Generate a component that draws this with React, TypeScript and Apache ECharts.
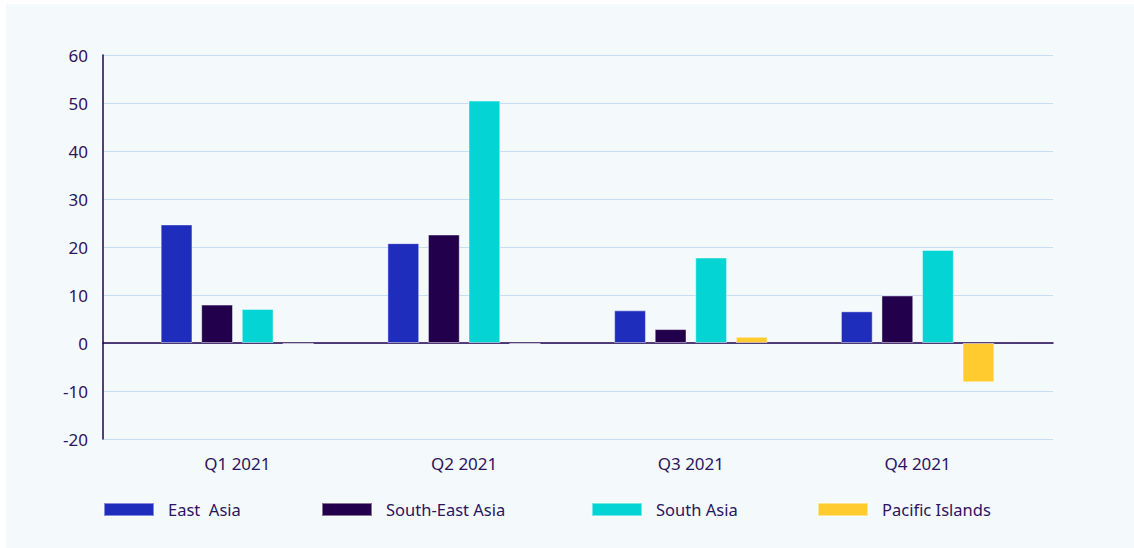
import React, { useEffect, useRef } from "react";
import * as echarts from "echarts";

const categories = ["Q1 2021", "Q2 2021", "Q3 2021", "Q4 2021"];
const seriesNames = ["East  Asia", "South-East Asia", "South Asia", "Pacific Islands"];
const eastAsia = [24.7, 20.8, 6.8, 6.6];
const southEastAsia = [8.0, 22.6, 2.9, 9.9];
const southAsia = [7.1, 50.5, 17.8, 19.4];
const pacificIslands = [-0.2, -0.2, 1.3, -8.2];
const seriesColors = ["#1f2dbd", "#23004c", "#05d4d4", "#ffcb2f"];
const yTicks = { min: -20, max: 60, interval: 10 };
const legendLefts = [103, 321, 591, 817];

const TEXT = "#2b1460";
const FONT = "'Noto Sans', 'Open Sans', sans-serif";

export default function App() {
  const ref = useRef<HTMLDivElement>(null);
  useEffect(() => {
    if (!ref.current) return;
    const chart = echarts.init(ref.current, undefined, { renderer: "svg" });
    const values = [eastAsia, southEastAsia, southAsia, pacificIslands];
    chart.setOption({
      animation: false,
      textStyle: { fontFamily: FONT, color: TEXT },
      grid: [
        { left: 103, right: 81, top: 55, bottom: 109 },
        { left: 124, right: 103, top: 55, bottom: 109 },
      ],
      xAxis: [
        {
          type: "category",
          gridIndex: 0,
          data: categories,
          axisLine: { show: true, onZero: true, lineStyle: { color: "#22004d", width: 1.5 } },
          axisTick: { show: false },
          axisLabel: { show: false },
          splitLine: { show: false },
        },
        {
          type: "category",
          gridIndex: 1,
          data: categories,
          axisLine: { show: false },
          axisTick: { show: false },
          axisLabel: {
            show: true,
            color: TEXT,
            fontSize: 17,
            fontFamily: FONT,
            margin: 16,
          },
          splitLine: { show: false },
        },
      ],
      yAxis: [
        {
          type: "value",
          gridIndex: 0,
          min: yTicks.min,
          max: yTicks.max,
          interval: yTicks.interval,
          axisLine: { show: true, lineStyle: { color: "#22004d", width: 1.5 } },
          axisTick: { show: false },
          axisLabel: { color: TEXT, fontSize: 17, fontFamily: FONT, margin: 15 },
          splitLine: { show: true, lineStyle: { color: "#c6ddf3", width: 1 } },
        },
        {
          type: "value",
          gridIndex: 1,
          min: yTicks.min,
          max: yTicks.max,
          interval: yTicks.interval,
          show: false,
          splitLine: { show: false },
        },
      ],
      legend: seriesNames.map((n, i) => ({
        data: [n],
        left: legendLefts[i],
        top: 501,
        padding: 0,
        icon: "rect",
        itemWidth: 50,
        itemHeight: 13,
        selectedMode: false,
        textStyle: { color: TEXT, fontSize: 16.5, fontFamily: FONT, padding: [0, 0, 0, 9] },
      })),
      series: seriesNames.map((n, i) => ({
        name: n,
        type: "bar",
        xAxisIndex: 1,
        yAxisIndex: 1,
        data: values[i],
        barWidth: 31.8,
        barGap: "27.5%",
        itemStyle: {
          color: seriesColors[i],
          borderColor: "rgba(255,255,255,0.45)",
          borderWidth: 1,
        },
        z: 3,
      })),
    });
    return () => chart.dispose();
  }, []);

  return (
    <div style={{ position: "fixed", left: 0, top: 0, width: 1134, height: 548, background: "#ffffff" }}>
      <div style={{ position: "absolute", left: 6, top: 4, width: 1128, height: 544, background: "#f4f9fc" }} />
      <div ref={ref} style={{ position: "absolute", left: 0, top: 0, width: 1134, height: 548 }} />
    </div>
  );
}
